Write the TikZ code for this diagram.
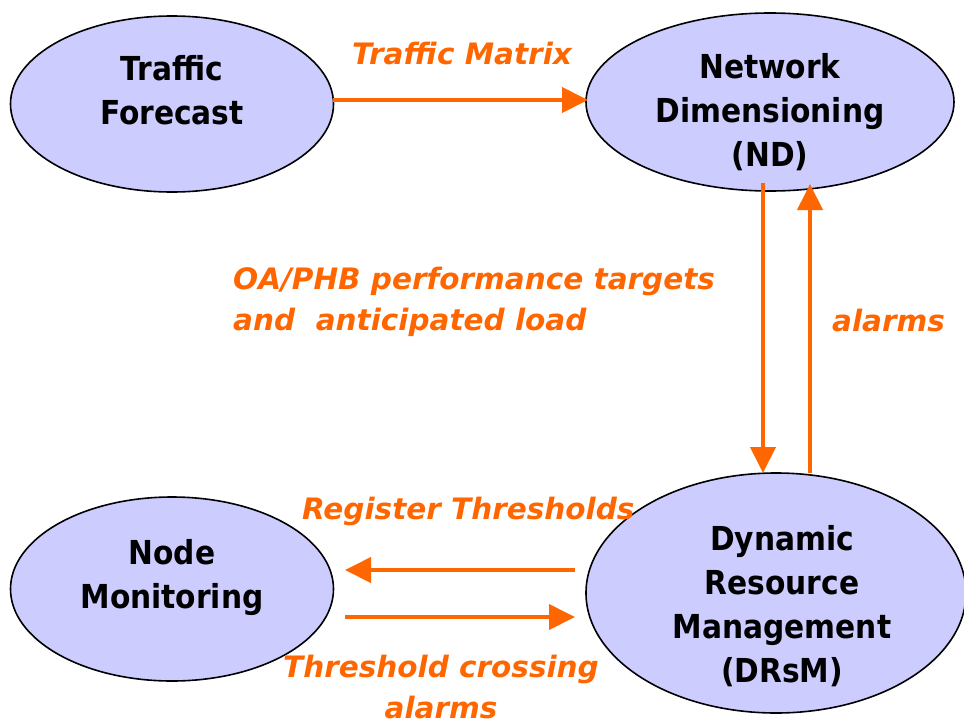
\documentclass[tikz,border=0pt]{standalone}
\usepackage{fontspec}
\setmainfont{DejaVu Sans Condensed}
\newfontfamily\lblfont{DejaVu Sans}
\usetikzlibrary{shapes.geometric,arrows.meta}
\definecolor{ellfill}{HTML}{CCCCFF}
\definecolor{arr}{HTML}{FF6600}
\tikzset{
  blob/.style={ellipse, draw=black, line width=1.6pt, fill=ellfill, inner sep=0pt},
  btext/.style={font=\fontsize{33}{44}\selectfont\bfseries, align=center},
  flow/.style={draw=arr, line width=4pt, -{Triangle[length=26pt,width=25pt]}},
  lbl/.style={text=arr, font=\lblfont\fontsize{29.5}{41}\selectfont\bfseries\itshape, inner sep=0pt, align=left}
}
\begin{document}
\begin{tikzpicture}[x=1pt,y=-1pt]
\useasboundingbox (0,0) rectangle (964,726);
\node[blob, minimum width=323pt, minimum height=176pt] (tf) at (172,104) {};
\node[btext] (tft) at (172,90) {Traffic\\Forecast};
\node[blob, minimum width=368pt, minimum height=178pt] (nd) at (770,102) {};
\node[btext] (ndt) at (770,112) {Network\\Dimensioning\\(ND)};
\node[blob, minimum width=323pt, minimum height=184pt] (nm) at (172,589) {};
\node[btext] (nmt) at (172,578) {Node\\Monitoring};
\node[blob, minimum width=380pt, minimum height=240pt] (dr) at (776,593) {};
\node[btext] (drt) at (782,606) {Dynamic\\Resource\\Management\\(DRsM)};

\coordinate (tmA) at (333,100);
\coordinate (tmB) at (588,100);
\coordinate (dnA) at (763,183);
\coordinate (dnB) at (763,473);
\coordinate (upA) at (810,473);
\coordinate (upB) at (810,184);
\coordinate (lfA) at (575,570);
\coordinate (lfB) at (345,570);
\coordinate (rtA) at (345,617);
\coordinate (rtB) at (575,617);

\draw[flow] (tmA) -- (tmB);
\draw[flow] (dnA) -- (dnB);
\draw[flow] (upA) -- (upB);
\draw[flow] (lfA) -- (lfB);
\draw[flow] (rtA) -- (rtB);

\node[lbl, anchor=west] (l1) at (352,53) {Traffic Matrix};
\node[lbl, anchor=west] (l2) at (233,302) {OA/PHB performance targets\\and\ \ anticipated load};
\node[lbl, anchor=west] (l3) at (832,320) {alarms};
\node[lbl, anchor=west] (l4) at (302,511) {Register Thresholds};
\node[lbl, align=center] (l5) at (441,687) {Threshold crossing\\alarms};
\end{tikzpicture}
\end{document}
